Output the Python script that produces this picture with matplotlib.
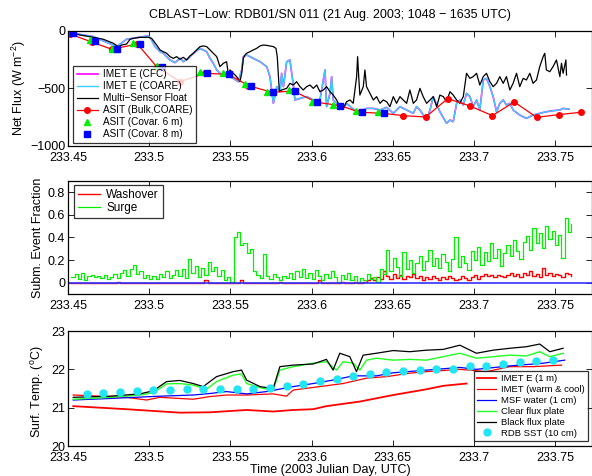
import numpy as np
import matplotlib.pyplot as plt
from matplotlib.ticker import FixedLocator

plt.rcParams['font.family'] = ['Liberation Sans', 'DejaVu Sans']
plt.rcParams['mathtext.default'] = 'regular'

# --- net flux (W m^-2) ---
msf_t = [233.4512, 233.4574, 233.4656, 233.4718, 233.4779, 233.4810, 233.4831, 233.4861, 233.4882, 233.4902,
         233.4943, 233.4995, 233.5015, 233.5026, 233.5046, 233.5067, 233.5087, 233.5108, 233.5128, 233.5149,
         233.5169, 233.5190, 233.5210, 233.5231, 233.5251, 233.5272, 233.5292, 233.5313, 233.5333, 233.5354,
         233.5375, 233.5395, 233.5416, 233.5436, 233.5457, 233.5477, 233.5488, 233.5498, 233.5518, 233.5539,
         233.5559, 233.5570, 233.5580, 233.5590, 233.5600, 233.5621, 233.5641, 233.5662, 233.5683, 233.5703,
         233.5724, 233.5744, 233.5765, 233.5781, 233.5789, 233.5795, 233.5802, 233.5816, 233.5847, 233.5867,
         233.5888, 233.5908, 233.5929, 233.5949, 233.5970, 233.5991, 233.6011, 233.6032, 233.6052, 233.6073,
         233.6093, 233.6114, 233.6134, 233.6155, 233.6175, 233.6196, 233.6216, 233.6237, 233.6257, 233.6278,
         233.6284, 233.6292, 233.6298, 233.6319, 233.6329, 233.6339, 233.6360, 233.6381, 233.6401, 233.6422,
         233.6442, 233.6463, 233.6483, 233.6504, 233.6524, 233.6545, 233.6565, 233.6586, 233.6606, 233.6617,
         233.6627, 233.6647, 233.6668, 233.6688, 233.6709, 233.6730, 233.6750, 233.6771, 233.6791, 233.6812,
         233.6832, 233.6853, 233.6873, 233.6894, 233.6914, 233.6935, 233.6955, 233.6976, 233.6996, 233.7017,
         233.7037, 233.7058, 233.7078, 233.7099, 233.7119, 233.7140, 233.7160, 233.7181, 233.7201, 233.7222,
         233.7242, 233.7263, 233.7283, 233.7304, 233.7324, 233.7345, 233.7365, 233.7386, 233.7406, 233.7427,
         233.7437, 233.7447, 233.7468, 233.7488, 233.7509, 233.7530, 233.7540, 233.7550, 233.7567, 233.7571]
msf_flux = [-15, -35, -55, -72, -107, -136, -122, -113, -72, -64,
            -55, -55, -64, -84, -122, -165, -180, -194, -223, -238,
            -223, -246, -229, -252, -217, -194, -165, -136, -130, -136,
            -165, -194, -223, -310, -281, -267, -383, -339, -368, -397,
            -441, -368, -238, -209, -194, -180, -165, -151, -130, -122,
            -125, -130, -136, -151, -223, -368, -528, -513, -499, -455,
            -470, -441, -484, -513, -484, -470, -499, -470, -528, -513,
            -484, -528, -557, -600, -658, -673, -615, -600, -629, -397,
            -223, -426, -557, -484, -339, -484, -542, -600, -571, -629,
            -600, -615, -658, -571, -629, -571, -600, -629, -513, -571,
            -629, -600, -499, -571, -629, -600, -571, -658, -557, -571,
            -615, -528, -557, -600, -629, -571, -368, -412, -397, -368,
            -470, -397, -368, -441, -484, -455, -397, -455, -397, -513,
            -455, -368, -484, -412, -426, -368, -455, -426, -310, -223,
            -194, -339, -354, -310, -252, -397, -281, -368, -252, -383]

imet_t = [233.4512, 233.4656, 233.4800, 233.4861, 233.4964, 233.4995, 233.5015, 233.5036, 233.5067, 233.5087,
          233.5128, 233.5159, 233.5190, 233.5210, 233.5241, 233.5272, 233.5313, 233.5333, 233.5354, 233.5375,
          233.5395, 233.5416, 233.5436, 233.5457, 233.5477, 233.5518, 233.5549, 233.5570, 233.5580, 233.5600,
          233.5621, 233.5641, 233.5683, 233.5724, 233.5744, 233.5765, 233.5786, 233.5806, 233.5816, 233.5827,
          233.5847, 233.5867, 233.5888, 233.5898, 233.5929, 233.5970, 233.6011, 233.6052, 233.6083, 233.6093,
          233.6114, 233.6124, 233.6134, 233.6155, 233.6196, 233.6216, 233.6257, 233.6298, 233.6339, 233.6381,
          233.6422, 233.6463, 233.6504, 233.6545, 233.6586, 233.6627, 233.6647, 233.6668, 233.6709, 233.6730,
          233.6750, 233.6791, 233.6832, 233.6853, 233.6873, 233.6894, 233.6914, 233.6935, 233.6955, 233.6976,
          233.6996, 233.7017, 233.7037, 233.7058, 233.7078, 233.7099, 233.7119, 233.7140, 233.7160, 233.7181,
          233.7201, 233.7222, 233.7242, 233.7283, 233.7324, 233.7365, 233.7406, 233.7447, 233.7488, 233.7530,
          233.7550, 233.7586]
imet_coare = [-15, -49, -136, -72, -49, -43, -78, -136, -180, -194,
              -252, -275, -238, -267, -238, -194, -151, -165, -180, -238,
              -281, -339, -368, -383, -383, -412, -441, -339, -223, -209,
              -223, -238, -267, -310, -397, -629, -484, -528, -368, -484,
              -267, -252, -470, -600, -586, -571, -600, -600, -339, -658,
              -542, -397, -600, -629, -673, -629, -681, -702, -673, -673,
              -687, -664, -716, -658, -687, -716, -658, -687, -774, -687,
              -571, -702, -803, -774, -789, -629, -600, -644, -542, -571,
              -658, -600, -687, -426, -412, -484, -571, -702, -629, -600,
              -644, -629, -687, -731, -760, -731, -716, -702, -693, -687,
              -673, -680]
imet_cfc = imet_coare

asit_bulk_t = [233.4512, 233.4650, 233.4769, 233.4927, 233.5046, 233.5190, 233.5344, 233.5488, 233.5611, 233.5755,
               233.5888, 233.6032, 233.6176, 233.6299, 233.6442, 233.6566, 233.6703, 233.6839, 233.6976, 233.7114,
               233.7249, 233.7387, 233.7524, 233.7660]
asit_bulk = [-26, -98, -159, -113, -310, -441, -368, -377, -475, -533,
             -522, -620, -649, -707, -716, -736, -748, -588, -652, -736,
             -617, -751, -727, -707]
asit_6m_t = [233.4636, 233.4769, 233.4902, 233.5046, 233.5313, 233.5453, 233.5590, 233.5724, 233.5863, 233.6001,
             233.6134, 233.6274, 233.6412]
asit_6m = [-78, -157, -107, -302, -359, -368, -464, -528, -513, -615, -643, -696, -702]
asit_8m_t = [233.4533, 233.4666, 233.4804, 233.4944, 233.5079, 233.5354, 233.5492, 233.5625, 233.5761, 233.5898,
             233.6036, 233.6176, 233.6309, 233.6447]
asit_8m = [-20, -87, -159, -113, -310, -368, -377, -475, -533, -522, -620, -649, -707, -710]

# --- submergence event fractions ---
event_t0 = 233.452
event_dt = 0.002
surge = [0.05, 0.08, 0.03, 0.09, 0.02, 0.06, 0.07, 0.05, 0.06, 0.04,
         0.07, 0.03, 0.05, 0.08, 0.04, 0.09, 0.11, 0.06, 0.12, 0.16,
         0.08, 0.10, 0.04, 0.07, 0.03,
         0.06, 0.03, 0.08, 0.05, 0.10, 0.04, 0.07, 0.11, 0.06, 0.12,
         0.04, 0.21, 0.09, 0.15, 0.05, 0.13, 0.07, 0.18, 0.10, 0.14,
         0.06, 0.11, 0.02, 0.05, 0.01,
         0.40, 0.45, 0.33, 0.35, 0.26, 0.30, 0.10, 0.07, 0.04, 0.25,
         0.06, 0.03, 0.08, 0.05, 0.02, 0.06, 0.04, 0.09, 0.03, 0.10,
         0.05, 0.12, 0.04, 0.09, 0.03,
         0.11, 0.06, 0.02, 0.08, 0.04, 0.10, 0.05, 0.01, 0.07, 0.03,
         0.09, 0.02, 0.06, 0.01, 0.04, 0.02, 0.08, 0.03, 0.05, 0.01,
         0.12, 0.08, 0.29, 0.10, 0.22,
         0.14, 0.06, 0.27, 0.12, 0.20, 0.09, 0.17, 0.24, 0.11, 0.19,
         0.29, 0.15, 0.22, 0.13, 0.25, 0.18, 0.10, 0.21, 0.40, 0.14,
         0.24, 0.17, 0.11, 0.28, 0.20,
         0.32, 0.16, 0.27, 0.19, 0.35, 0.22, 0.30, 0.15, 0.26, 0.33,
         0.24, 0.38, 0.28, 0.21, 0.36, 0.41, 0.29, 0.48, 0.35, 0.44,
         0.31, 0.50, 0.39, 0.46, 0.33, 0.42, 0.22, 0.57, 0.45, 0.52]
washover = [0.00, 0.00, 0.00, 0.00, 0.00, 0.00, 0.00, 0.00, 0.00, 0.00,
            0.00, 0.00, 0.00, 0.00, 0.01, 0.00, 0.00, 0.00, 0.00, 0.00,
            0.00, 0.00, 0.00, 0.00, 0.00,
            0.00, 0.00, 0.00, 0.00, 0.00, 0.00, 0.00, 0.00, 0.00, 0.00,
            0.00, 0.00, 0.00, 0.00, 0.00, 0.00, 0.02, 0.00, 0.00, 0.00,
            0.00, 0.00, 0.00, 0.00, 0.00,
            0.00, 0.00, 0.02, 0.00, 0.00, 0.00, 0.00, 0.00, 0.00, 0.00,
            0.00, 0.00, 0.00, 0.00, 0.01, 0.00, 0.00, 0.00, 0.00, 0.00,
            0.00, 0.00, 0.00, 0.00, 0.00,
            0.00, 0.02, 0.00, 0.00, 0.00, 0.00, 0.00, 0.00, 0.01, 0.00,
            0.00, 0.00, 0.01, 0.00, 0.00, 0.01, 0.02, 0.04, 0.02, 0.05,
            0.03, 0.10, 0.06, 0.03, 0.08,
            0.04, 0.07, 0.03, 0.06, 0.05, 0.08, 0.04, 0.06, 0.02, 0.05,
            0.03, 0.06, 0.04, 0.02, 0.05, 0.03, 0.06, 0.04, 0.02, 0.03,
            0.06, 0.04, 0.02, 0.05, 0.07,
            0.03, 0.06, 0.08, 0.06, 0.07, 0.05, 0.07, 0.06, 0.05, 0.07,
            0.09, 0.06, 0.08, 0.05, 0.09, 0.07, 0.10, 0.06, 0.08, 0.05,
            0.13, 0.07, 0.09, 0.06, 0.08, 0.07, 0.05, 0.09, 0.08, 0.06]

# --- surface temperatures (deg C) ---
imet_1m_t = [233.4532, 233.4860, 233.5189, 233.5374, 233.5600, 233.5764, 233.5887, 233.6010, 233.6092, 233.6298,
             233.6503, 233.6708, 233.6811, 233.6955]
imet_1m = [21.04, 20.96, 20.87, 20.88, 20.94, 20.90, 20.94, 20.96, 21.04, 21.16,
           21.33, 21.48, 21.57, 21.63]
imet_wc_t = [233.4532, 233.4860, 233.4984, 233.5066, 233.5271, 233.5374, 233.5477, 233.5600, 233.5764, 233.5846,
             233.5887, 233.6051, 233.6195, 233.6339, 233.6462, 233.6606, 233.6708, 233.6914, 233.7078, 233.7222,
             233.7365, 233.7540]
imet_wc = [21.33, 21.27, 21.20, 21.27, 21.22, 21.29, 21.33, 21.33, 21.36, 21.30,
           21.46, 21.55, 21.63, 21.77, 21.81, 21.90, 21.94, 22.00, 21.94, 22.07,
           22.07, 22.11]
msf_water_t = [233.4532, 233.4758, 233.5066, 233.5271, 233.5374, 233.5477, 233.5600, 233.5723, 233.5887, 233.6010,
               233.6133, 233.6257, 233.6400, 233.6503, 233.6708, 233.6914, 233.7016, 233.7222, 233.7427, 233.7560]
msf_water = [21.20, 21.24, 21.30, 21.33, 21.37, 21.42, 21.36, 21.42, 21.55, 21.63,
             21.72, 21.83, 21.83, 21.91, 21.98, 22.05, 22.00, 22.09, 22.16, 22.24]
clear_t = [233.4532, 233.4758, 233.4943, 233.5025, 233.5107, 233.5189, 233.5271, 233.5353, 233.5415, 233.5518,
           233.5569, 233.5600, 233.5703, 233.5764, 233.5805, 233.5887, 233.6010, 233.6092, 233.6154, 233.6195,
           233.6257, 233.6298, 233.6339, 233.6400, 233.6503, 233.6606, 233.6708, 233.6811, 233.6914, 233.7016,
           233.7119, 233.7222, 233.7324, 233.7406, 233.7468, 233.7550]
clear_plate = [21.22, 21.27, 21.33, 21.39, 21.62, 21.63, 21.59, 21.48, 21.68, 21.85,
               21.88, 21.63, 21.50, 21.46, 21.98, 22.07, 22.16, 22.20, 21.98, 22.20,
               22.16, 21.98, 22.24, 22.29, 22.24, 22.26, 22.24, 22.33, 22.42, 22.29,
               22.33, 22.37, 22.35, 22.46, 22.33, 22.42]
black_t = [233.4532, 233.4758, 233.4943, 233.5025, 233.5107, 233.5189, 233.5271, 233.5333, 233.5415, 233.5518,
           233.5569, 233.5600, 233.5682, 233.5764, 233.5805, 233.5887, 233.6010, 233.6092, 233.6133, 233.6174,
           233.6236, 233.6277, 233.6318, 233.6400, 233.6503, 233.6606, 233.6708, 233.6811, 233.6914, 233.7016,
           233.7119, 233.7222, 233.7324, 233.7406, 233.7468, 233.7550]
black_plate = [21.27, 21.30, 21.36, 21.44, 21.68, 21.71, 21.63, 21.55, 21.81, 21.94,
               21.98, 21.72, 21.55, 21.50, 22.07, 22.11, 22.14, 22.26, 21.98, 22.42,
               22.33, 21.94, 22.37, 22.42, 22.49, 22.46, 22.50, 22.52, 22.63, 22.42,
               22.50, 22.55, 22.59, 22.66, 22.46, 22.55]
rdb_sst_t = [233.4615, 233.4718, 233.4820, 233.4923, 233.5026, 233.5128, 233.5231, 233.5333, 233.5436, 233.5539,
             233.5641, 233.5744, 233.5846, 233.5949, 233.6052, 233.6154, 233.6257, 233.6359, 233.6462, 233.6565,
             233.6667, 233.6770, 233.6872, 233.6975, 233.7078, 233.7180, 233.7283, 233.7385, 233.7488]
rdb_sst = [21.36, 21.37, 21.42, 21.44, 21.46, 21.46, 21.48, 21.49, 21.49, 21.50,
           21.50, 21.52, 21.57, 21.63, 21.70, 21.74, 21.83, 21.88, 21.92, 21.96,
           21.98, 22.01, 22.02, 22.09, 22.10, 22.13, 22.18, 22.22, 22.24]

xticks = [233.45, 233.5, 233.55, 233.6, 233.65, 233.7, 233.75]
xtick_labels = ['233.45', '233.5', '233.55', '233.6', '233.65', '233.7', '233.75']
xlim = (233.45, 233.7728)

fig = plt.figure(figsize=(5.92, 4.76), dpi=100)
ax1 = fig.add_axes([0.1149, 0.6933, 0.8851, 0.2416])
ax2 = fig.add_axes([0.1149, 0.3824, 0.8851, 0.2374])
ax3 = fig.add_axes([0.1149, 0.0630, 0.8851, 0.2416])

for ax in (ax1, ax2, ax3):
    ax.set_xlim(*xlim)
    ax.xaxis.set_major_locator(FixedLocator(xticks))
    ax.set_xticklabels(xtick_labels)
    ax.tick_params(direction='in', top=True, right=True, labelsize=9, length=4, width=0.6, pad=2)
    ax.tick_params(axis='x', pad=4)
    for s in ax.spines.values():
        s.set_linewidth(0.9)

legend_kw = dict(frameon=True, fancybox=False, edgecolor='black', borderaxespad=0,
                 borderpad=0.35, handletextpad=0.5)

# flux panel
ax1.plot(imet_t, imet_cfc, color='magenta', lw=1.2, label='IMET E (CFC)')
ax1.plot(imet_t, imet_coare, color='#3ccfff', lw=1.0, label='IMET E (COARE)')
ax1.plot(msf_t, msf_flux, color='black', lw=0.9, label='Multi\u2212Sensor Float')
ax1.plot(asit_bulk_t, asit_bulk, color='red', lw=0.9, marker='o', ms=4, label='ASIT (Bulk,COARE)')
ax1.plot(asit_6m_t, asit_6m, ls='none', marker='^', color='#00ee00', ms=5, label='ASIT (Covar. 6 m)')
ax1.plot(asit_8m_t, asit_8m, ls='none', marker='s', color='blue', ms=4, label='ASIT (Covar. 8 m)')
ax1.set_ylim(-1000, 0)
ax1.set_yticks([-1000, -500, 0])
ax1.set_ylabel('Net Flux (W m$^{-2}$)', fontsize=9)
ax1.yaxis.set_label_coords(-0.0765, 0.5)
ax1.set_title('CBLAST\u2212Low: RDB01/SN 011 (21 Aug. 2003; 1048 \u2212 1635 UTC)', fontsize=9, pad=9)
leg1 = ax1.legend(loc='lower left', bbox_to_anchor=(0.01, 0.03), fontsize=7.2, handlelength=2.1,
                  labelspacing=0.2, **legend_kw)
leg1.get_frame().set_linewidth(0.9)

# event fraction panel
event_t = event_t0 + event_dt * np.arange(len(surge))
ax2.step(event_t, washover, where='post', color='red', lw=1.0, label='Washover')
ax2.step(event_t, surge, where='post', color='#00f000', lw=0.9, label='Surge')
ax2.axhline(0, color='#3030ff', lw=1.2)
ax2.set_ylim(-0.1, 0.9)
ax2.set_yticks([0, 0.2, 0.4, 0.6, 0.8])
ax2.set_yticklabels(['0', '0.2', '0.4', '0.6', '0.8'])
ax2.set_ylabel('Subm. Event Fraction', fontsize=9)
ax2.yaxis.set_label_coords(-0.046, 0.5)
leg2 = ax2.legend(loc='upper left', bbox_to_anchor=(0.011, 0.965), fontsize=8.5, handlelength=1.9,
                  labelspacing=0.1, **legend_kw)
leg2.get_frame().set_linewidth(0.9)

# temperature panel
ax3.plot(imet_1m_t, imet_1m, color='red', lw=1.3, label='IMET E (1 m)')
ax3.plot(imet_wc_t, imet_wc, color='red', lw=0.9, label='IMET (warm & cool)')
ax3.plot(msf_water_t, msf_water, color='blue', lw=0.9, label='MSF water (1 cm)')
ax3.plot(clear_t, clear_plate, color='#22ff22', lw=1.0, label='Clear flux plate')
ax3.plot(black_t, black_plate, color='black', lw=0.9, label='Black flux plate')
ax3.plot(rdb_sst_t, rdb_sst, ls='none', marker='o', color='#22e5f5', ms=5, label='RDB SST (10 cm)')
ax3.set_ylim(20, 23)
ax3.set_yticks([20, 21, 22, 23])
ax3.set_ylabel('Surf. Temp. ($^o$C)', fontsize=9)
ax3.yaxis.set_label_coords(-0.042, 0.47)
ax3.set_xlabel('Time (2003 Julian Day, UTC)', fontsize=9, labelpad=0)
leg3 = ax3.legend(loc='lower right', bbox_to_anchor=(0.992, 0.043), fontsize=6.8, handlelength=2.0,
                  labelspacing=0.2, **legend_kw)
leg3.get_frame().set_linewidth(0.9)

fig.savefig('out.png', dpi=100)
